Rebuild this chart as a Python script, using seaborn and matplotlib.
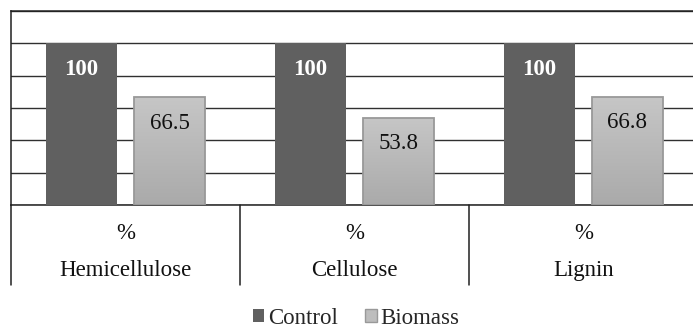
import numpy as np
import pandas as pd
import matplotlib
matplotlib.use("Agg")
import matplotlib.pyplot as plt
import matplotlib.transforms as mtransforms
from matplotlib.patches import Patch
from matplotlib.colors import LinearSegmentedColormap
import seaborn as sns

# Relative composition (% of control) for each lignocellulosic component
categories = ["Hemicellulose", "Cellulose", "Lignin"]
series = ["Control", "Biomass"]
control = [100, 100, 100]
biomass = [66.5, 53.8, 66.8]
unit_label = "%"

df = pd.DataFrame({
    "component": categories * 2,
    "treatment": [series[0]] * len(categories) + [series[1]] * len(categories),
    "value": control + biomass,
})

dark = "#606060"
light = "#bdbdbd"
light_edge = "#999999"
serif = ["Liberation Serif", "DejaVu Serif"]
fs = 16.5

sns.set_theme(style="white")
plt.rcParams["font.family"] = serif

fig = plt.figure(figsize=(6.93, 3.27), dpi=100)
ax = fig.add_axes([11 / 693, 122 / 327, 687 / 693, 194 / 327])

sns.barplot(
    data=df, x="component", y="value", hue="treatment",
    order=categories, hue_order=series,
    palette={series[0]: dark, series[1]: light},
    saturation=1, width=0.768, gap=0.203,
    errorbar=None, legend=False, ax=ax, zorder=3,
)

ax.set_yticks(np.arange(0, 121, 20))
ax.set_yticklabels([])
ax.set_xticks([])
ax.set_xlabel("")
ax.set_ylabel("")
ax.tick_params(length=0)
ax.yaxis.grid(True, color="#303030", linewidth=1.0, zorder=0)
ax.set_axisbelow(True)
for side in ("top", "left", "bottom"):
    ax.spines[side].set_color("#202020")
    ax.spines[side].set_linewidth(1.1)
ax.spines["right"].set_visible(False)

# Control bars: flat fill with bold white value inside the top
for bar, v in zip(ax.containers[0], control):
    bar.set_edgecolor("none")
    cx = bar.get_x() + bar.get_width() / 2
    ax.annotate(f"{v:g}", (cx, v), xytext=(0, -18.5), textcoords="offset points",
                ha="center", va="center", color="white", fontweight="bold",
                fontsize=fs, zorder=5)

# Biomass bars: light vertical gradient with grey outline
grad_cmap = LinearSegmentedColormap.from_list("g", ["#aaaaaa", "#c6c6c6"])
grad = np.linspace(0, 1, 256).reshape(-1, 1)
for bar, v in zip(ax.containers[1], biomass):
    x0, w, h = bar.get_x(), bar.get_width(), bar.get_height()
    ax.imshow(grad, extent=[x0, x0 + w, 0, h], origin="lower", cmap=grad_cmap,
              aspect="auto", zorder=3.5, interpolation="bilinear")
    bar.set_facecolor("none")
    bar.set_edgecolor(light_edge)
    bar.set_linewidth(1.3)
    bar.set_zorder(4)
    ax.annotate(f"{v:.1f}", (x0 + w / 2, v), xytext=(0, -18.5), textcoords="offset points",
                ha="center", va="center", color="#111111", fontsize=fs, zorder=5)

ax.set_xlim(-0.5, 2.5)
ax.set_ylim(0, 120)

# Category table beneath the plot area
trans = mtransforms.blended_transform_factory(ax.transData, ax.transAxes)
for b in (-0.5, 0.5, 1.5):
    ax.plot([b, b], [0, -0.412], transform=trans, clip_on=False,
            color="#202020", linewidth=1.1)
for i, cat in enumerate(categories):
    ax.text(i, -0.145, unit_label, transform=trans, ha="center", va="center",
            fontsize=fs, color="#111111")
    ax.text(i, -0.338, cat, transform=trans, ha="center", va="center",
            fontsize=fs, color="#111111")

handles = [Patch(facecolor=dark, edgecolor="none"),
           Patch(facecolor=light, edgecolor=light_edge)]
fig.legend(handles, series, loc="center", bbox_to_anchor=(356 / 693, 9 / 327),
           ncol=2, frameon=False, prop={"family": serif, "size": fs},
           handlelength=0.5, handleheight=0.5,
           handletextpad=0.15, columnspacing=1.2, borderpad=0)

fig.savefig("out.png", dpi=100)
